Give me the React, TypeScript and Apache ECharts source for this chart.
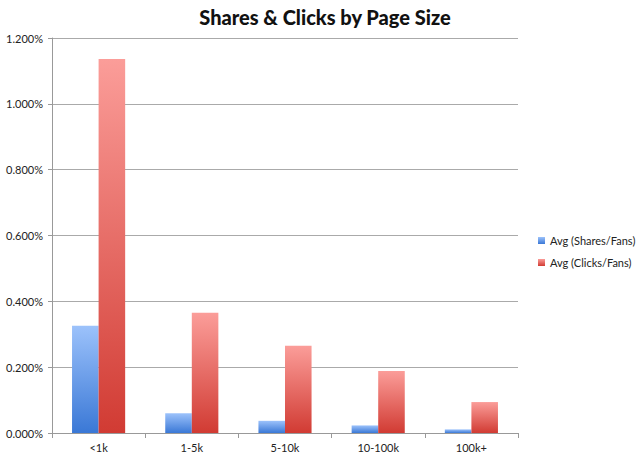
import React, { useRef, useEffect } from "react";
import * as echarts from "echarts";

const categories = ["<1k", "1-5k", "5-10k", "10-100k", "100k+"];
const sharesPerFan = [0.326, 0.06, 0.037, 0.023, 0.011];
const clicksPerFan = [1.136, 0.365, 0.265, 0.188, 0.094];
const seriesNames = ["Avg (Shares/Fans)", "Avg (Clicks/Fans)"];

const FONT = "Lato, 'Liberation Sans', sans-serif";

function barGradient(top: string, bottom: string) {
  return new echarts.graphic.LinearGradient(0, 0, 0, 1, [
    { offset: 0, color: top },
    { offset: 1, color: bottom },
  ]);
}

export default function App() {
  const chartRef = useRef<HTMLDivElement>(null);

  useEffect(() => {
    if (!chartRef.current) return;
    const chart = echarts.init(chartRef.current, null, { renderer: "svg" });

    const option = {
      animation: false,
      backgroundColor: "#ffffff",
      title: {
        text: "Shares & Clicks by Page Size",
        left: 320,
        textAlign: "center",
        top: 2,
        textStyle: { fontFamily: FONT, fontSize: 20, fontWeight: 900, color: "#111" },
      },
      legend: {
        orient: "vertical",
        left: 533,
        top: 230,
        itemWidth: 7,
        itemHeight: 7,
        itemGap: 11,
        icon: "rect",
        textStyle: { fontFamily: FONT, fontSize: 11, color: "#222" },
        data: seriesNames,
      },
      grid: { left: 52, right: 122, top: 38, bottom: 30 },
      xAxis: {
        type: "category",
        data: categories,
        axisLine: { lineStyle: { color: "#999" } },
        axisTick: { show: true, length: 5, lineStyle: { color: "#999" } },
        axisLabel: { fontFamily: FONT, fontSize: 11, color: "#222", margin: 9 },
      },
      yAxis: {
        type: "value",
        min: 0,
        max: 1.2,
        interval: 0.2,
        axisLine: { show: true, lineStyle: { color: "#999" } },
        axisTick: { show: true, length: 4, lineStyle: { color: "#999" } },
        axisLabel: {
          fontFamily: FONT,
          fontSize: 11,
          color: "#222",
          margin: 9,
          formatter: (v: number) => v.toFixed(3) + "%",
        },
        splitLine: { lineStyle: { color: "#aaa", width: 1 } },
      },
      series: [
        {
          name: seriesNames[0],
          type: "bar",
          data: sharesPerFan,
          barGap: "0%",
          barCategoryGap: "43%",
          itemStyle: { color: barGradient("#9cc2fb", "#3a78d6") },
        },
        {
          name: seriesNames[1],
          type: "bar",
          data: clicksPerFan,
          barGap: "0%",
          barCategoryGap: "43%",
          itemStyle: { color: barGradient("#fb9d99", "#d13b33") },
        },
      ],
    };

    chart.setOption(option);
    return () => chart.dispose();
  }, []);

  return (
    <div
      ref={chartRef}
      style={{ position: "fixed", left: 0, top: 0, width: 640, height: 463 }}
    />
  );
}
